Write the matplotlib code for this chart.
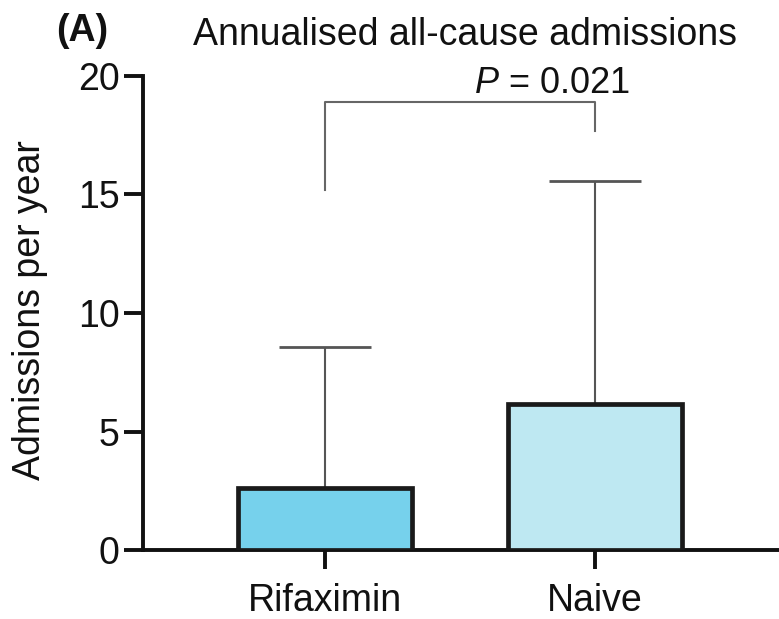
import matplotlib
matplotlib.use("Agg")
import matplotlib.pyplot as plt

categories = ["Rifaximin", "Naive"]
means = [2.6, 6.15]
upper_sd = [8.55, 15.55]
bar_colors = ["#76D1EC", "#BEE8F2"]
y_ticks = [0, 5, 10, 15, 20]
p_label = "$\\mathit{P}$ = 0.021"
bracket_left_y = 15.2
bracket_top_y = 18.9
bracket_right_y = 17.7

plt.rcParams['font.family'] = ['Liberation Sans', 'DejaVu Sans']
plt.rcParams['mathtext.fontset'] = 'custom'
plt.rcParams['mathtext.it'] = 'Liberation Sans:italic'
plt.rcParams['mathtext.rm'] = 'Liberation Sans'

fig = plt.figure(figsize=(7.79, 6.19), dpi=100)
ax = fig.add_axes([143/779, 1-550/619, 1-143/779, (550-76)/619])

x = list(range(len(categories)))
ax.bar(x, means, width=0.645, color=bar_colors, edgecolor="#1a1a1a", linewidth=3.4, zorder=3)
err_lo = [0 for _ in means]
err_hi = [u - m for u, m in zip(upper_sd, means)]
ax.errorbar(x, means, yerr=[err_lo, err_hi], fmt="none", ecolor="#555555",
            elinewidth=1.5, capsize=33, capthick=2.0, zorder=2)

# significance bracket
ax.plot([x[0], x[0], x[1], x[1]], [bracket_left_y, bracket_top_y, bracket_top_y, bracket_right_y],
        color="#666666", lw=1.5, zorder=2, clip_on=False)
ax.text(0.84, 18.95, p_label, ha="center", va="bottom", fontsize=26, color="#111111")

ax.set_xlim(-0.674, 1.681)
ax.set_ylim(0, 20)
ax.set_yticks(y_ticks)
ax.set_xticks(x)
ax.set_xticklabels(categories)
ax.tick_params(axis="both", labelsize=27, length=14, width=2.8, color="#111111", labelcolor="#111111")
ax.tick_params(axis="y", pad=3)
ax.tick_params(axis="x", pad=10)
for s in ["top", "right"]:
    ax.spines[s].set_visible(False)
for s in ["left", "bottom"]:
    ax.spines[s].set_linewidth(2.8)
    ax.spines[s].set_color("#111111")

fig.text(30/779, 1-310/619, "Admissions per year", rotation=90, ha="center", va="center",
         fontsize=27, color="#111111")
fig.text(465/779, 1-35/619, "Annualised all-cause admissions", ha="center", va="center",
         fontsize=27, color="#111111")
fig.text(82/779, 1-31/619, "(A)", ha="center", va="center", fontsize=27, fontweight="bold",
         color="#111111")

fig.savefig("out.png", dpi=100)
